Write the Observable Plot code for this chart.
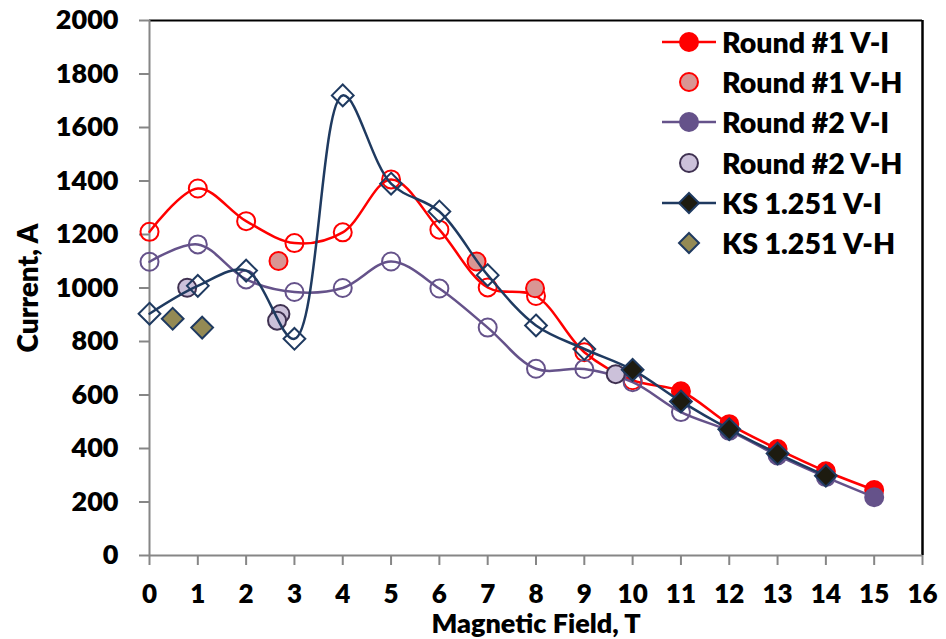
<!DOCTYPE html>
<html>
<head>
<meta charset="utf-8">
<script src="https://cdn.jsdelivr.net/npm/d3@7"></script>
<script src="https://cdn.jsdelivr.net/npm/@observablehq/plot@0.6"></script>
<style>
  html, body { margin: 0; padding: 0; background: white; }
  #wrap { position: relative; width: 946px; height: 639px; font-family: Lato, sans-serif; font-weight: 800; }
  #legend { position: absolute; left: 662px; top: 22px; }
  .row { display: flex; align-items: center; height: 40.2px; font-size: 28.5px; color: black; white-space: nowrap; }
  .row svg { flex: none; margin-right: 6px; }
</style>
</head>
<body>
<div id="wrap"><div id="legend"></div></div>
<script>
// ---- data ----
const field = [0, 1, 2, 3, 4, 5, 6, 7, 8, 9, 10, 11, 12, 13, 14, 15];
const round1VI = [1210, 1372, 1250, 1168, 1208, 1406, 1218, 1002, 970, 760, 655, 614, 491, 398, 315, 245];
const round2VI = [1098, 1163, 1032, 985, 1000, 1099, 998, 852, 698, 697, 648, 536, 466, 374, 293, 218];
const ksField = [0, 1, 2, 3, 4, 5, 6, 7, 8, 9, 10, 11, 12, 13, 14];
const ksVI = [904, 1008, 1065, 810, 1720, 1390, 1286, 1048, 860, 772, 694, 576, 472, 381, 298];
const round1VHField = [2.67, 6.77, 7.98];
const round1VH = [1101, 1099, 999];
const round2VHField = [0.78, 2.71, 2.64, 9.65];
const round2VH = [1001, 903, 878, 678];
const ksVHField = [0.48, 1.09];
const ksVH = [885, 852];
const round1FilledFrom = 11, round2FilledFrom = 12, ksFilledFrom = 10;
const xTicks = d3.range(0, 17);
const yTicks = d3.range(0, 2001, 200);
const seriesNames = ["Round #1 V-I", "Round #1 V-H", "Round #2 V-I", "Round #2 V-H", "KS 1.251 V-I", "KS 1.251 V-H"];
const xTitle = "Magnetic Field, T";
const yTitle = "Current, A";

// ---- colours ----
const RED = "#ff0000", PINK = "#d99694";
const PURPLE = "#65528a", LAV = "#ccc1da", LAVSTROKE = "#3f3151";
const NAVY = "#1f3a60", DARK = "#1d1b10", OLIVE = "#948a54";

const toRows = (xs, ys) => xs.map((x, i) => ({x, y: ys[i]}));
const r1 = toRows(field, round1VI);
const r2 = toRows(field, round2VI);
const ks = toRows(ksField, ksVI);
const r1h = toRows(round1VHField, round1VH);
const r2h = toRows(round2VHField, round2VH);
const ksh = toRows(ksVHField, ksVH);

const R = 9, RD = 9.8;
const chart = Plot.plot({
  width: 946, height: 639,
  marginLeft: 149, marginRight: 24, marginTop: 20, marginBottom: 84,
  x: {domain: [0, 16]},
  y: {domain: [0, 2000]},
  style: {fontFamily: "Lato, sans-serif", fontWeight: "800", fontSize: "27px", color: "black", background: "white", overflow: "visible"},
  marks: [
    Plot.ruleY([2000], {stroke: "black", strokeWidth: 2}),
    Plot.ruleX([16], {stroke: "black", strokeWidth: 2.5}),
    Plot.axisX({ticks: xTicks, tickSize: 10, tickPadding: 19, stroke: "#868686", strokeWidth: 2, fill: "black", fontSize: 26, label: null, tickFormat: d => String(d)}),
    Plot.axisY({ticks: yTicks, tickSize: 10, tickPadding: 21, stroke: "#868686", strokeWidth: 2, fill: "black", fontSize: 27, label: null, tickFormat: d => String(d)}),
    Plot.ruleX([0], {stroke: "#868686", strokeWidth: 2}),
    Plot.ruleY([0], {stroke: "#868686", strokeWidth: 2}),
    Plot.text([xTitle], {frameAnchor: "bottom", lineAnchor: "middle", textAnchor: "middle", dy: 69, fontSize: 27, fill: "black"}),
    Plot.text([yTitle], {frameAnchor: "left", lineAnchor: "middle", textAnchor: "middle", dx: -120, rotate: -90, fontSize: 28, fill: "black"}),
    // Round #1 V-I
    Plot.line(r1, {x: "x", y: "y", stroke: RED, strokeWidth: 2.5, curve: "catmull-rom"}),
    Plot.dot(r1.filter(d => d.x < round1FilledFrom), {x: "x", y: "y", r: R, stroke: RED, strokeWidth: 2, fill: "none"}),
    Plot.dot(r1.filter(d => d.x >= round1FilledFrom), {x: "x", y: "y", r: R, stroke: RED, strokeWidth: 2, fill: RED}),
    // Round #1 V-H
    Plot.dot(r1h, {x: "x", y: "y", r: R, stroke: RED, strokeWidth: 2, fill: PINK}),
    // Round #2 V-I
    Plot.line(r2, {x: "x", y: "y", stroke: PURPLE, strokeWidth: 2.5, curve: "catmull-rom"}),
    Plot.dot(r2.filter(d => d.x < round2FilledFrom), {x: "x", y: "y", r: R, stroke: PURPLE, strokeWidth: 2, fill: "none"}),
    Plot.dot(r2.filter(d => d.x >= round2FilledFrom), {x: "x", y: "y", r: R, stroke: PURPLE, strokeWidth: 2, fill: PURPLE}),
    // Round #2 V-H
    Plot.dot(r2h, {x: "x", y: "y", r: R, stroke: LAVSTROKE, strokeWidth: 2, fill: LAV}),
    // KS V-I
    Plot.line(ks, {x: "x", y: "y", stroke: NAVY, strokeWidth: 2.5, curve: "catmull-rom"}),
    Plot.dot(ks.filter(d => d.x < ksFilledFrom), {x: "x", y: "y", r: RD, symbol: "diamond2", stroke: NAVY, strokeWidth: 2, fill: "none"}),
    Plot.dot(ks.filter(d => d.x >= ksFilledFrom), {x: "x", y: "y", r: RD, symbol: "diamond2", stroke: NAVY, strokeWidth: 2, fill: DARK}),
    // KS V-H
    Plot.dot(ksh, {x: "x", y: "y", r: RD, symbol: "diamond2", stroke: NAVY, strokeWidth: 2, fill: OLIVE})
  ]
});
document.getElementById("wrap").insertBefore(chart, document.getElementById("legend"));

// ---- legend ----
const legendSpec = [
  {line: RED, shape: "circle", fill: RED, stroke: RED},
  {line: null, shape: "circle", fill: PINK, stroke: RED},
  {line: PURPLE, shape: "circle", fill: PURPLE, stroke: PURPLE},
  {line: null, shape: "circle", fill: LAV, stroke: LAVSTROKE},
  {line: NAVY, shape: "diamond", fill: DARK, stroke: NAVY},
  {line: null, shape: "diamond", fill: OLIVE, stroke: NAVY}
];
const legend = d3.select("#legend");
seriesNames.forEach((name, i) => {
  const s = legendSpec[i];
  const row = legend.append("div").attr("class", "row");
  const svg = row.append("svg").attr("width", 54).attr("height", 26);
  if (s.line) svg.append("line").attr("x1", 0).attr("x2", 54).attr("y1", 13).attr("y2", 13).attr("stroke", s.line).attr("stroke-width", 2.5);
  if (s.shape === "circle") {
    svg.append("circle").attr("cx", 27).attr("cy", 13).attr("r", 9).attr("fill", s.fill).attr("stroke", s.stroke).attr("stroke-width", 2);
  } else {
    svg.append("path").attr("d", "M27,3L37,13L27,23L17,13Z").attr("fill", s.fill).attr("stroke", s.stroke).attr("stroke-width", 2);
  }
  row.append("span").text(name);
});
</script>
</body>
</html>
